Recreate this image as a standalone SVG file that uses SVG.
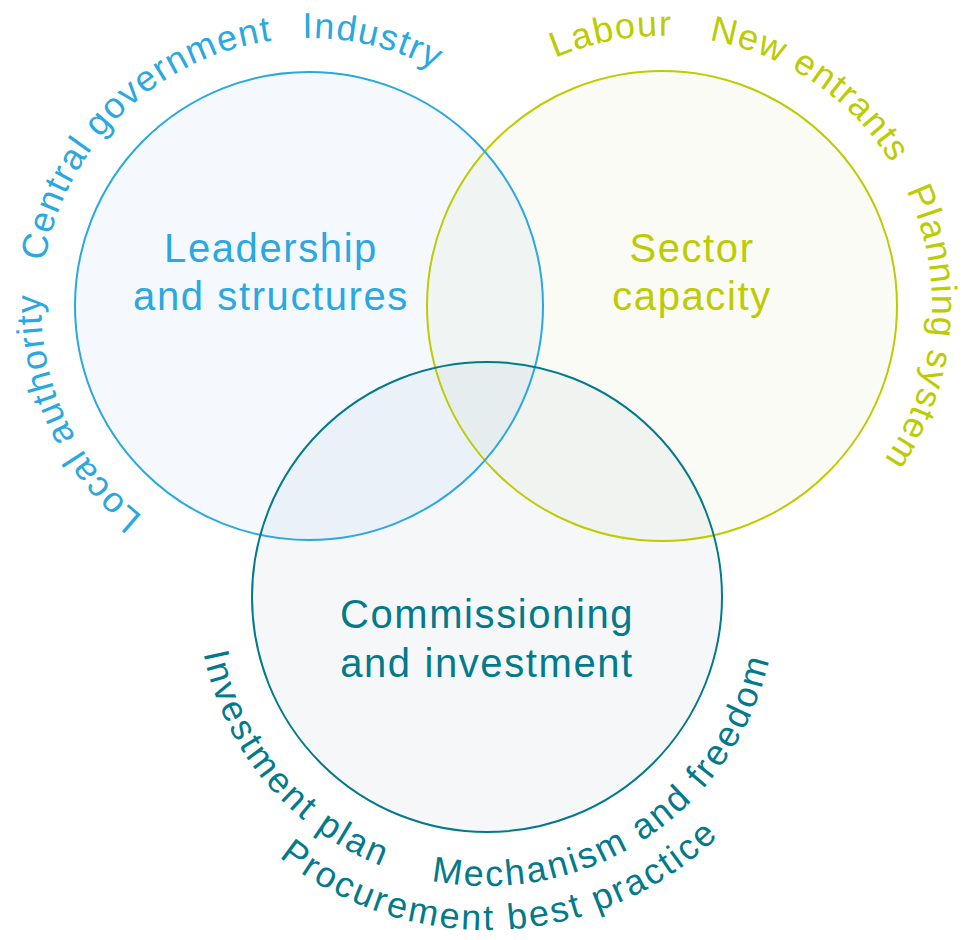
<svg xmlns="http://www.w3.org/2000/svg" xmlns:xlink="http://www.w3.org/1999/xlink" width="967" height="940" viewBox="0 0 967 940">
<style>
text{font-family:"Liberation Sans",Arial,sans-serif}
.title{font-size:40px;letter-spacing:1.6px;text-anchor:middle}
.lab{font-size:36px;letter-spacing:1.3px}
.lab.teal{letter-spacing:2.5px}
.blue{fill:#2aa8df}
.yel{fill:#bccc00}
.teal{fill:#027a8b}
.ring{fill:none;stroke-width:2}
</style>
<defs>
<path id="pBlue" d="M175,538.1 A268,268 0 1 1 481.3,100.7"/>
<path id="pYel" d="M488.4,99.2 A270,270 0 1 1 797,539.8"/>
<path id="pTealIn" d="M199.1,622.2 A289,289 0 0 0 774.9,622.2"/>
<path id="pTealOut" d="M198.6,763.5 A333,333 0 0 0 775.4,763.5"/>
</defs>
<rect width="967" height="940" fill="#ffffff"/>
<g id="fills">
<circle cx="662" cy="306" r="235" fill="#9baf37" fill-opacity="0.05"/>
<circle cx="309" cy="306" r="234" fill="#589bee" fill-opacity="0.06"/>
<circle cx="487" cy="597" r="235" fill="#375f87" fill-opacity="0.05"/>
</g>
<g id="connectors"></g>
<g id="node-sector">
<circle class="ring" cx="662" cy="306" r="235" stroke="#bccc00"/>
<text class="title yel" x="692" y="262">Sector</text>
<text class="title yel" x="692" y="310">capacity</text>
<text class="lab yel"><textPath xlink:href="#pYel" startOffset="78.7">Labour</textPath></text>
<text class="lab yel"><textPath xlink:href="#pYel" startOffset="235.6">New entrants</textPath></text>
<text class="lab yel"><textPath xlink:href="#pYel" startOffset="493.3">Planning system</textPath></text>
</g>
<g id="node-leadership">
<circle class="ring" cx="309" cy="306" r="234" stroke="#2aa8df"/>
<text class="title blue" x="271" y="262">Leadership</text>
<text class="title blue" x="271" y="310">and structures</text>
<text class="lab blue"><textPath xlink:href="#pBlue" startOffset="38.8">Local authority</textPath></text>
<text class="lab blue" letter-spacing="1"><textPath xlink:href="#pBlue" startOffset="325.1">Central government</textPath></text>
<text class="lab blue"><textPath xlink:href="#pBlue" startOffset="694.5">Industry</textPath></text>
</g>
<g id="node-commissioning">
<circle class="ring" cx="487" cy="597" r="235" stroke="#027a8b"/>
<text class="title teal" x="487" y="628">Commissioning</text>
<text class="title teal" x="487" y="677">and investment</text>
<text class="lab teal"><textPath xlink:href="#pTealIn" startOffset="31.3">Investment plan</textPath></text>
<text class="lab teal"><textPath xlink:href="#pTealIn" startOffset="372.2">Mechanism and freedom</textPath></text>
<text class="lab teal"><textPath xlink:href="#pTealOut" startOffset="123.8">Procurement best practice</textPath></text>
</g>
</svg>
